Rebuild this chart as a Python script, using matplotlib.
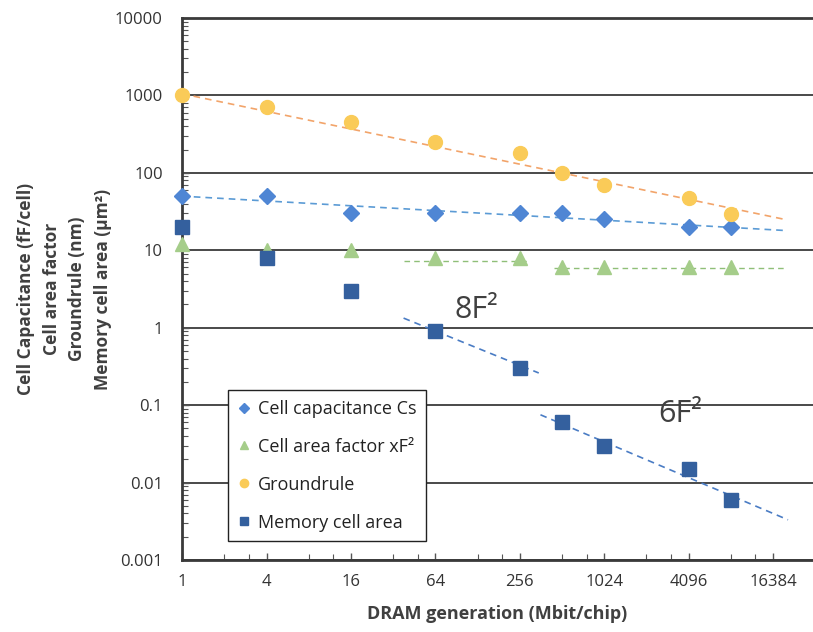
import matplotlib.pyplot as plt
from matplotlib.ticker import FixedLocator, NullFormatter, LogLocator

plt.rcParams['font.family'] = ['Open Sans', 'DejaVu Sans']

# DRAM generation (Mbit/chip)
gen = [1, 4, 16, 64, 256, 512, 1024, 4096, 8192]
x_ticks = [1, 4, 16, 64, 256, 1024, 4096, 16384]

capacitance = [50, 50, 30, 30, 30, 30, 25, 20, 20]       # fF/cell
area_factor = [12, 10, 10, 8, 8, 6, 6, 6, 6]              # xF^2
groundrule = [1000, 700, 450, 250, 180, 100, 70, 48, 29]  # nm
cell_area = [20, 8, 3, 0.9, 0.3, 0.06, 0.03, 0.015, 0.006]  # um^2

# dashed trend lines (x endpoints, y endpoints)
gr_fit_x, gr_fit_y = [1, 20000], [1050, 25]
cs_fit_x, cs_fit_y = [1, 20000], [50, 18]
af_fit1_x, af_fit1_y = [38, 300], [7.2, 7.2]
af_fit2_x, af_fit2_y = [450, 20000], [5.9, 5.9]
f8_fit_x, f8_fit_y = [38, 350], [1.33, 0.26]
f6_fit_x, f6_fit_y = [360, 21000], [0.075, 0.0033]

c_cs = '#4F86D4'
c_af = '#A5CD8A'
c_gr = '#FACB58'
c_ca = '#34609E'

fig = plt.figure(figsize=(8.13, 6.32), dpi=100)
ax = fig.add_axes([0.224, 0.114, 0.776, 0.8575])

ax.set_xscale('log', base=2)
ax.set_yscale('log')
ax.set_xlim(1, 2 ** 14.95)
ax.set_ylim(0.001, 10000)

ax.plot(gr_fit_x, gr_fit_y, '--', color='#F2A46A', lw=1.2, dashes=(4, 3))
ax.plot(cs_fit_x, cs_fit_y, '--', color='#5B9BD5', lw=1.2, dashes=(4, 3))
ax.plot(af_fit1_x, af_fit1_y, '--', color='#8FBF78', lw=1.0, dashes=(4, 3))
ax.plot(af_fit2_x, af_fit2_y, '--', color='#8FBF78', lw=1.0, dashes=(4, 3))
ax.plot(f8_fit_x, f8_fit_y, '--', color='#4A7CC4', lw=1.2, dashes=(4, 3))
ax.plot(f6_fit_x, f6_fit_y, '--', color='#4A7CC4', lw=1.2, dashes=(4, 3))

ax.plot(gen, capacitance, 'D', color=c_cs, ms=8, label='Cell capacitance Cs', clip_on=False, zorder=5)
ax.plot(gen, area_factor, '^', color=c_af, ms=10, label='Cell area factor xF²', clip_on=False, zorder=5)
ax.plot(gen, groundrule, 'o', color=c_gr, ms=10, label='Groundrule', clip_on=False, zorder=5)
ax.plot(gen, cell_area, 's', color=c_ca, ms=10, label='Memory cell area', clip_on=False, zorder=5)

ax.text(125, 1.68, '8F²', fontsize=22, color='#404040', ha='center', va='center')
ax.text(3600, 0.077, '6F²', fontsize=22, color='#404040', ha='center', va='center')

# axes styling
ax.grid(axis='y', which='major', color='#3a3a3a', lw=1.3)
ax.set_axisbelow(True)
for side in ['top', 'left', 'bottom']:
    ax.spines[side].set_color('#3a3a3a')
    ax.spines[side].set_linewidth(2)
ax.spines['right'].set_visible(False)

ax.xaxis.set_major_locator(FixedLocator(x_ticks))
ax.set_xticklabels([str(v) for v in x_ticks])
ax.xaxis.set_minor_locator(LogLocator(base=4, subs=(2, 3)))
ax.xaxis.set_minor_formatter(NullFormatter())
ax.yaxis.set_major_locator(FixedLocator([0.001, 0.01, 0.1, 1, 10, 100, 1000, 10000]))
ax.set_yticklabels(['0.001', '0.01', '0.1', '1', '10', '100', '1000', '10000'])
ax.yaxis.set_minor_locator(LogLocator(base=10, subs=range(2, 10)))
ax.yaxis.set_minor_formatter(NullFormatter())

ax.tick_params(which='both', direction='in', color='#555555', labelsize=12, labelcolor='#333333')
ax.tick_params(which='major', length=5, width=1)
ax.tick_params(which='minor', length=4, width=0.8)
ax.tick_params(axis='x', pad=10)
ax.tick_params(axis='y', pad=14)

ax.set_xlabel('DRAM generation (Mbit/chip)', fontsize=13, fontweight='bold', color='#404040', labelpad=11)
ax.set_ylabel('Cell Capacitance (fF/cell)\nCell area factor\nGroundrule (nm)\nMemory cell area (µm²)',
              fontsize=12.5, fontweight='bold', color='#404040', labelpad=2, linespacing=1.55)

leg = ax.legend(loc='upper left', bbox_to_anchor=(228 / 813, 1 - 390 / 632), bbox_transform=fig.transFigure,
                borderaxespad=0, fontsize=13, frameon=True, fancybox=False, edgecolor='#222222', framealpha=1,
                markerscale=0.6, handlelength=0.7, handletextpad=0.4, labelspacing=1.1, borderpad=0.55)
leg.get_frame().set_linewidth(1.0)
for t in leg.get_texts():
    t.set_color('#222222')

fig.savefig('out.png', dpi=100, facecolor='white')
